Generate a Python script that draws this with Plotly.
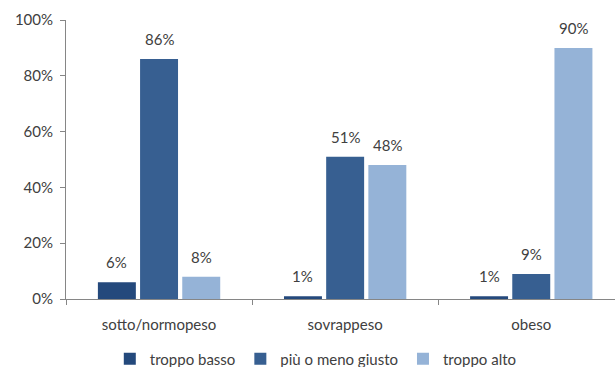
import plotly.graph_objects as go

categories = ["sotto/normopeso", "sovrappeso", "obeso"]
series_names = ["troppo basso", "più o meno giusto", "troppo alto"]
troppo_basso = [6, 1, 1]
piu_o_meno_giusto = [86, 51, 9]
troppo_alto = [8, 48, 90]
y_ticks = [0, 20, 40, 60, 80, 100]

colors = ["#24497C", "#375F91", "#95B3D7"]
values = [troppo_basso, piu_o_meno_giusto, troppo_alto]

BARGAP = 0.32
slot = (1 - BARGAP) / len(values)

fig = go.Figure()
for name, vals, col in zip(series_names, values, colors):
    fig.add_trace(go.Bar(
        x=categories, y=vals, name=name,
        marker=dict(color=col, line=dict(width=0)),
    ))

# value labels above each bar
for s, vals in enumerate(values):
    offset = (s - (len(values) - 1) / 2) * slot
    for c, v in enumerate(vals):
        fig.add_annotation(
            x=c + offset, y=v, xref="x", yref="y", text=f"{v}%",
            showarrow=False, yanchor="bottom", yshift=9,
            font=dict(size=15, color="#404040"),
        )

fig.update_layout(
    width=615, height=367,
    margin=dict(l=66, r=0, t=20, b=68, autoexpand=False),
    paper_bgcolor="white", plot_bgcolor="white",
    font=dict(family="Lato, sans-serif", size=15, color="#404040"),
    barmode="group", bargap=BARGAP, bargroupgap=0.1,
    showlegend=True,
    legend=dict(orientation="h", xref="paper", x=0.455, xanchor="center",
                yref="paper", y=-0.215, yanchor="middle",
                font=dict(size=15, color="#404040"),
                itemwidth=30, tracegroupgap=0),
)
fig.update_xaxes(
    range=[-0.5, 2.45], showline=True, linecolor="#868686", linewidth=1,
    ticks="outside", tickson="boundaries", ticklen=5, tickcolor="#868686",
    ticklabelstandoff=12, tickangle=0,
    showgrid=False, tickfont=dict(size=15, color="#404040"),
)
fig.update_yaxes(
    range=[0, 100], tickvals=y_ticks, ticktext=[f"{t}%" for t in y_ticks],
    showline=True, linecolor="#868686", linewidth=1,
    ticks="outside", ticklen=5, tickcolor="#868686", ticklabelstandoff=4,
    showgrid=False, zeroline=False, tickfont=dict(size=15, color="#404040"),
)

fig.write_html("out.html")
